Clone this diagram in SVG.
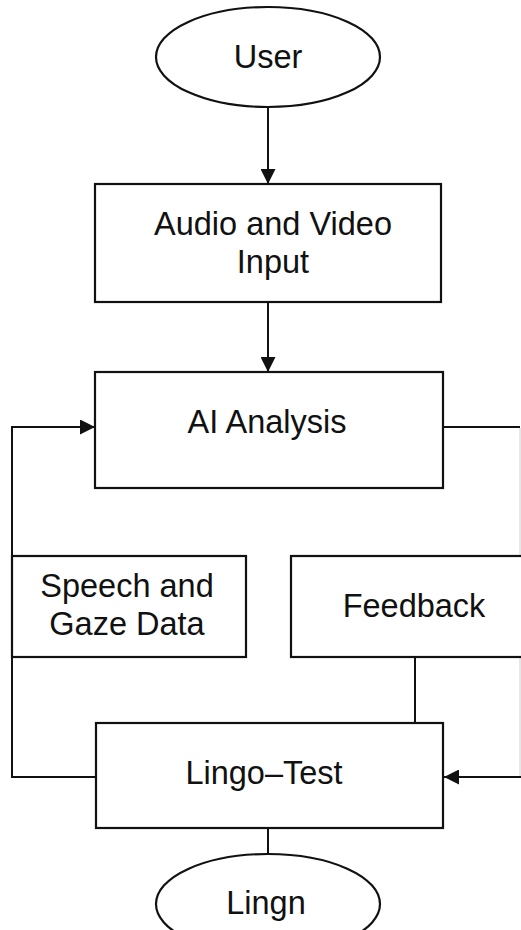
<svg xmlns="http://www.w3.org/2000/svg" width="521" height="930" viewBox="0 0 521 930">
  <style>
    .shape { fill: #ffffff; stroke: #111111; stroke-width: 2.2; }
    .conn { fill: none; stroke: #111111; stroke-width: 2; }
    .label { font-family: "Liberation Sans", Arial, Helvetica, sans-serif; font-size: 32.5px; fill: #111111; text-anchor: middle; }
  </style>
  <defs>
    <marker id="arrow" viewBox="0 0 15 15" refX="15" refY="7.5" markerWidth="15" markerHeight="15" markerUnits="userSpaceOnUse" orient="auto">
      <path d="M0,0 L15,7.5 L0,15 Z" fill="#111111"/>
    </marker>
  </defs>
  <rect width="521" height="930" fill="#ffffff"/>

  <g id="connectors">
    <line class="conn" x1="268" y1="107" x2="268" y2="184" marker-end="url(#arrow)"/>
    <line class="conn" x1="268" y1="302" x2="268" y2="372" marker-end="url(#arrow)"/>
    <polyline class="conn" points="96,777 12,777 12,427 95,427" marker-end="url(#arrow)"/>
    <polyline class="conn" points="443,427 520,427"/>
    <line x1="520" y1="428" x2="520" y2="776" stroke="#d0d0d0" stroke-width="1"/>
    <line class="conn" x1="521" y1="777" x2="444" y2="777" marker-end="url(#arrow)"/>
    <line class="conn" x1="415" y1="657" x2="415" y2="723"/>
    <line class="conn" x1="268" y1="828" x2="268" y2="854"/>
  </g>

  <g id="user">
    <ellipse class="shape" cx="268" cy="57" rx="112" ry="50"/>
    <text class="label" x="268" y="68">User</text>
  </g>

  <g id="audio-video-input">
    <rect class="shape" x="95" y="184" width="346" height="118"/>
    <text class="label" x="273" y="235">Audio and Video</text>
    <text class="label" x="273" y="273">Input</text>
  </g>

  <g id="ai-analysis">
    <rect class="shape" x="95" y="372" width="348" height="116"/>
    <text class="label" x="267" y="433">AI Analysis</text>
  </g>

  <g id="speech-gaze-data">
    <rect class="shape" x="12" y="556" width="234" height="101"/>
    <text class="label" x="127" y="597">Speech and</text>
    <text class="label" x="127" y="635">Gaze Data</text>
  </g>

  <g id="feedback">
    <rect class="shape" x="291" y="556" width="240" height="101"/>
    <text class="label" x="414" y="617">Feedback</text>
  </g>

  <g id="lingo-test">
    <rect class="shape" x="96" y="723" width="347" height="105"/>
    <text class="label" x="264" y="784">Lingo–Test</text>
  </g>

  <g id="lingn">
    <ellipse class="shape" cx="268" cy="904" rx="112" ry="50"/>
    <text class="label" x="266" y="914">Lingn</text>
  </g>
</svg>
